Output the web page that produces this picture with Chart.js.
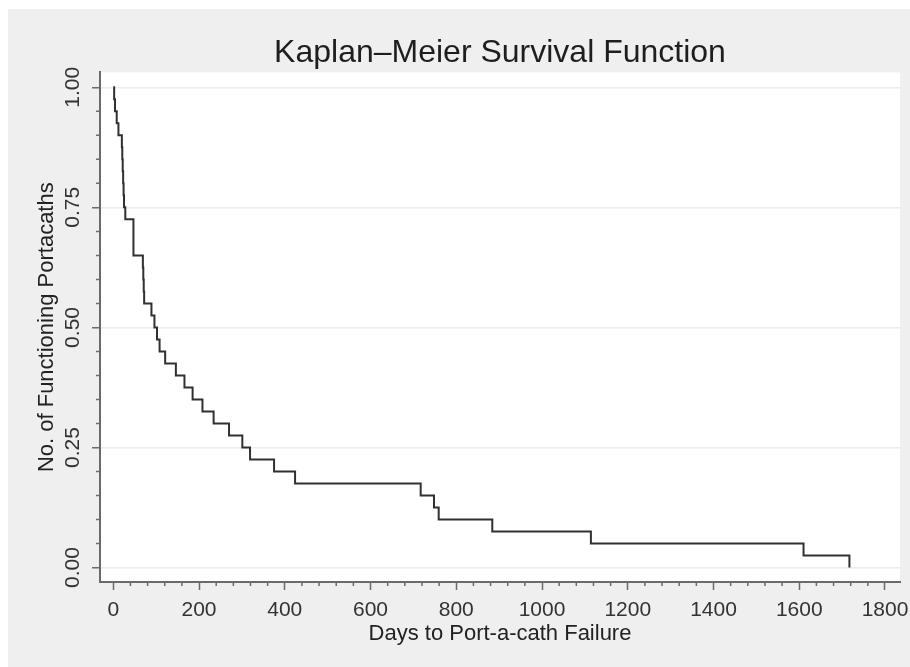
<!DOCTYPE html>
<html>
<head>
<meta charset="utf-8">
<script src="https://cdn.jsdelivr.net/npm/chart.js@4/dist/chart.umd.min.js"></script>
<style>
  html, body { margin: 0; padding: 0; background: #fff; }
  #wrap { width: 910px; height: 667px; }
</style>
</head>
<body>
<div id="wrap"><canvas id="kmChart" width="910" height="667"></canvas></div>
<script>
// step points of the survival curve
let days = [0, 2, 4, 8, 12, 20, 21, 22, 23, 24, 25, 28, 47, 69, 70, 71, 72, 89, 96, 102, 108, 121, 146, 166, 185, 208, 234, 270, 301, 319, 375, 424, 717, 748, 759, 884, 1114, 1610, 1717]
let survival = [1, 0.975, 0.95, 0.925, 0.9, 0.875, 0.85, 0.825, 0.8, 0.775, 0.75, 0.725, 0.65, 0.625, 0.6, 0.575, 0.55, 0.525, 0.5, 0.475, 0.45, 0.425, 0.4, 0.375, 0.35, 0.325, 0.3, 0.275, 0.25, 0.225, 0.2, 0.175, 0.15, 0.125, 0.1, 0.075, 0.05, 0.025, 0]

let xTicks = [0, 200, 400, 600, 800, 1000, 1200, 1400, 1600, 1800]
let xTickLabels = ['0', '200', '400', '600', '800', '1000', '1200', '1400', '1600', '1800']
let yTicks = [0, 0.25, 0.5, 0.75, 1]
let yTickLabels = ['0.00', '0.25', '0.50', '0.75', '1.00']

const axisColor = '#6b6b6b'
const gridColor = '#e6eff1'
const fontFamily = "'Liberation Sans', Arial, sans-serif"

const backdrop = {
    id: 'backdrop',
    beforeDraw(chart) {
        const ctx = chart.ctx
        const a = chart.chartArea
        ctx.save()
        ctx.fillStyle = '#ffffff'
        ctx.fillRect(0, 0, chart.width, chart.height)
        ctx.fillStyle = '#efefef'
        ctx.fillRect(8, 9, chart.width - 8, chart.height - 9)
        ctx.fillStyle = '#ffffff'
        ctx.fillRect(a.left, a.top, a.right - a.left, a.bottom - a.top)
        ctx.restore()
    }
}

// short minor ticks between the labelled ones
const minorTicks = {
    id: 'minorTicks',
    afterDraw(chart) {
        const ctx = chart.ctx
        const xs = chart.scales.x
        const ys = chart.scales.y
        ctx.save()
        ctx.strokeStyle = axisColor
        ctx.lineWidth = 1.5
        ctx.beginPath()
        for (let v = 40; v < 1800; v += 40) {
            if (v % 200 === 0) continue
            const px = xs.getPixelForValue(v)
            ctx.moveTo(px, xs.top)
            ctx.lineTo(px, xs.top + 4)
        }
        for (let k = 1; k < 20; k++) {
            if (k % 5 === 0) continue
            const py = ys.getPixelForValue(k * 0.05)
            ctx.moveTo(ys.right, py)
            ctx.lineTo(ys.right - 4, py)
        }
        ctx.stroke()
        ctx.restore()
    }
}

const ctx = document.getElementById('kmChart')
let myChart = new Chart(ctx, {
    type: 'line',
    data: {
        datasets: [{
            label: 'Survival',
            data: days.map((d, i) => ({ x: d, y: survival[i] })),
            stepped: 'before',
            borderColor: '#303030',
            borderWidth: 2,
            pointRadius: 0,
            fill: false
        }]
    },
    options: {
        responsive: false,
        animation: false,
        devicePixelRatio: 1,
        layout: { padding: { left: 0, right: 10, top: 0, bottom: 0 } },
        plugins: {
            legend: { display: false },
            tooltip: { enabled: false },
            title: {
                display: true,
                text: 'Kaplan–Meier Survival Function',
                fullSize: false,
                color: '#1e1e1e',
                font: { family: fontFamily, size: 32, weight: 'normal', lineHeight: 1.2 },
                padding: { top: 34, bottom: 0 }
            }
        },
        scales: {
            x: {
                type: 'linear',
                min: -31,
                max: 1835,
                afterBuildTicks: s => { s.ticks = xTicks.map(v => ({ value: v })) },
                afterFit: s => { s.height = 85; s.paddingLeft = 0; s.paddingRight = 0 },
                grid: { drawOnChartArea: false, tickLength: 8, tickColor: axisColor, tickWidth: 1.5 },
                border: { display: true, color: axisColor, width: 2 },
                ticks: {
                    autoSkip: false,
                    maxRotation: 0,
                    padding: 8,
                    color: '#333333',
                    font: { family: fontFamily, size: 21 },
                    callback: (v, i) => xTickLabels[i]
                },
                title: {
                    display: true,
                    text: 'Days to Port-a-cath Failure',
                    color: '#222222',
                    font: { family: fontFamily, size: 22, lineHeight: 1.2 },
                    padding: { top: 0, bottom: 20 }
                }
            },
            y: {
                type: 'linear',
                min: -0.03,
                max: 1.031,
                afterBuildTicks: s => { s.ticks = yTicks.map(v => ({ value: v })) },
                afterFit: s => { s.width = 100; s.paddingTop = 0; s.paddingBottom = 0 },
                grid: { color: gridColor, lineWidth: 1.5, tickLength: 8, tickColor: axisColor, tickWidth: 1.5 },
                border: { display: true, color: axisColor, width: 2 },
                ticks: {
                    autoSkip: false,
                    minRotation: 90,
                    maxRotation: 90,
                    crossAlign: 'center',
                    padding: -2,
                    color: '#333333',
                    font: { family: fontFamily, size: 21 },
                    callback: (v, i) => yTickLabels[i]
                },
                title: {
                    display: true,
                    text: 'No. of Functioning Portacaths',
                    color: '#222222',
                    font: { family: fontFamily, size: 22, lineHeight: 1.2 },
                    padding: { top: 34, bottom: 0 }
                }
            }
        }
    },
    plugins: [backdrop, minorTicks]
})
</script>
</body>
</html>
